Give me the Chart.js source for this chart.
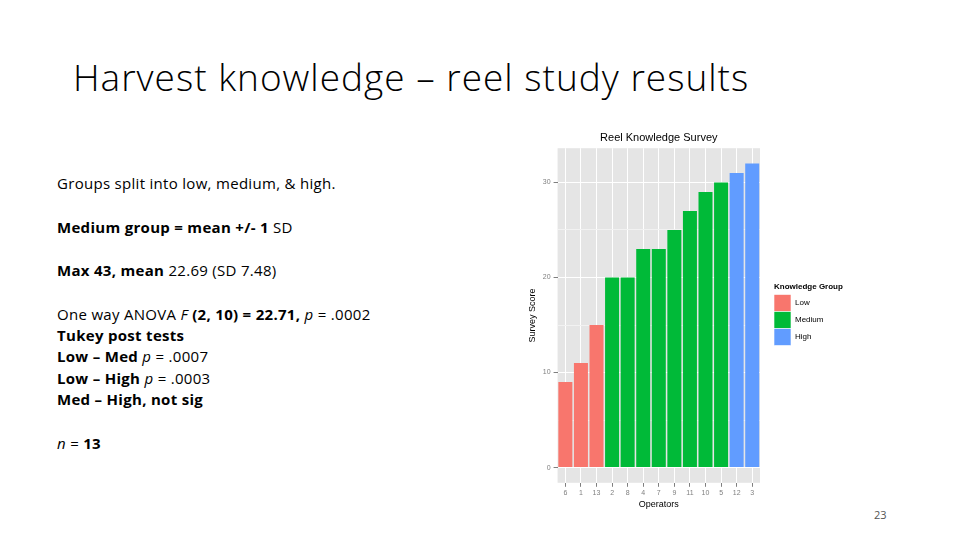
<!DOCTYPE html>
<html>
<head>
<meta charset="utf-8">
<script src="https://cdn.jsdelivr.net/npm/chart.js@4.4.1/dist/chart.umd.min.js"></script>
<style>
  body { margin: 0; width: 960px; height: 540px; background: #fff; position: relative; overflow: hidden;
         font-family: "Open Sans", Lato, sans-serif; color: #000; }
  #slideTitle { position: absolute; left: 73px; top: 51px; font-size: 37px; font-weight: 300; letter-spacing: 1px; white-space: nowrap; }
  .line { position: absolute; left: 57px; font-size: 15px; letter-spacing: 0.3px; white-space: nowrap; }
  b { font-weight: 700; }
  #page { position: absolute; left: 874px; top: 507px; font-size: 11px; color: #555; }
  #chartBox { position: absolute; left: 525px; top: 128px; width: 335px; height: 382px; }
</style>
</head>
<body>
<div id="slideTitle">Harvest knowledge – reel study results</div>
<div class="line" style="top:173px">Groups split into low, medium, &amp; high.</div>
<div class="line" style="top:217px"><b>Medium group = mean +/- 1</b> SD</div>
<div class="line" style="top:260px"><b>Max 43, mean</b> 22.69 (SD 7.48)</div>
<div class="line" style="top:304px">One way ANOVA <i>F</i> <b>(2, 10) = 22.71,</b> <i>p</i> = .0002</div>
<div class="line" style="top:325px"><b>Tukey post tests</b></div>
<div class="line" style="top:346px"><b>Low – Med</b> <i>p</i> = .0007</div>
<div class="line" style="top:368px"><b>Low – High</b> <i>p</i> = .0003</div>
<div class="line" style="top:389px"><b>Med – High, not sig</b></div>
<div class="line" style="top:433px"><i>n</i> = <b>13</b></div>
<div id="page">23</div>
<div id="chartBox"><canvas id="reelChart"></canvas></div>

<script>
// operators ordered by score, as in the original ggplot
const operators = ["6", "1", "13", "2", "8", "4", "7", "9", "11", "10", "5", "12", "3"];
const scores = [9, 11, 15, 20, 20, 23, 23, 25, 27, 29, 30, 31, 32];
const knowledgeGroup = ["Low", "Low", "Low", "Medium", "Medium", "Medium", "Medium", "Medium", "Medium", "Medium", "Medium", "High", "High"];
const groupNames = ["Low", "Medium", "High"];
const groupColors = ["#F8766D", "#00BA38", "#619CFF"];
const yTickValues = [0, 5, 10, 15, 20, 25, 30];

const datasets = groupNames.map((g, k) => ({
    label: g,
    data: scores.map((v, i) => knowledgeGroup[i] === g ? v : null),
    backgroundColor: groupColors[k],
    borderWidth: 0,
    grouped: false,
    categoryPercentage: 0.9,
    barPercentage: 1
}));

// grey ggplot panel behind the grid
const panelBg = {
    id: 'panelBg',
    beforeDraw(chart) {
        const a = chart.chartArea, c = chart.ctx;
        c.save();
        c.fillStyle = '#E5E5E5';
        c.fillRect(a.left, a.top, a.right - a.left, a.bottom - a.top);
        c.restore();
    }
};

// ggplot style legend: stacked keys with no gap, to the right of the panel
const groupLegend = {
    id: 'groupLegend',
    afterDraw(chart) {
        const a = chart.chartArea, c = chart.ctx;
        const x = a.right + 14, key = 17;
        const top = (a.top + a.bottom) / 2 - 21;
        c.save();
        c.fillStyle = '#000';
        c.textBaseline = 'middle';
        c.font = 'bold 8px "Liberation Sans"';
        c.fillText('Knowledge Group', x, top - 8);
        c.font = '8px "Liberation Sans"';
        chart.data.datasets.forEach((ds, i) => {
            const y = top + i * key;
            c.fillStyle = ds.backgroundColor;
            c.fillRect(x, y, key, key);
            c.strokeStyle = '#fff';
            c.lineWidth = 0.6;
            c.strokeRect(x, y, key, key);
            c.fillStyle = '#000';
            c.fillText(ds.label, x + key + 4, y + key / 2);
        });
        c.restore();
    }
};

const tickGrey = '#7F7F7F';

new Chart('reelChart', {
    type: 'bar',
    data: { labels: operators, datasets: datasets },
    options: {
        responsive: true,
        maintainAspectRatio: false,
        animation: false,
        layout: { padding: { right: 100 } },
        plugins: {
            title: {
                display: true, text: 'Reel Knowledge Survey', fullSize: false,
                color: '#000', font: { family: 'Liberation Sans', size: 11, weight: 'normal' },
                padding: { top: 3, bottom: 4 }
            },
            legend: { display: false },
            tooltip: { enabled: false }
        },
        scales: {
            x: {
                offset: true,
                border: { display: false },
                grid: { offset: false, color: '#FFFFFF', lineWidth: 1, tickColor: tickGrey, tickLength: 4 },
                ticks: { color: tickGrey, font: { family: 'Liberation Sans', size: 7 }, padding: 2, maxRotation: 0, autoSkip: false },
                title: { display: true, text: 'Operators', color: '#000', font: { family: 'Liberation Sans', size: 9 }, padding: 0 }
            },
            y: {
                min: -1.6, max: 33.6,
                border: { display: false },
                afterBuildTicks: s => { s.ticks = yTickValues.map(v => ({ value: v })); },
                grid: {
                    color: c => c.tick && c.tick.value % 10 === 0 ? '#FFFFFF' : '#F2F2F2',
                    lineWidth: 1,
                    tickColor: c => c.tick && c.tick.value % 10 === 0 ? tickGrey : 'rgba(0,0,0,0)',
                    tickLength: 4
                },
                ticks: { color: tickGrey, font: { family: 'Liberation Sans', size: 7 }, padding: 3,
                         callback: v => v % 10 === 0 ? v : '' },
                title: { display: true, text: 'Survey Score', color: '#000', font: { family: 'Liberation Sans', size: 9 }, padding: 2 }
            }
        }
    },
    plugins: [panelBg, groupLegend]
});
</script>
</body>
</html>
